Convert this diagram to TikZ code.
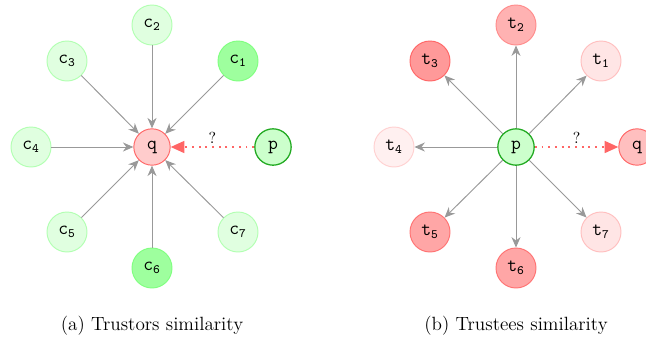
\documentclass[tikz,border=0pt]{standalone}
\usepackage{tikz}
\usetikzlibrary{arrows.meta}

\definecolor{edgegray}{HTML}{999999}
\definecolor{qred}{HTML}{FF6666}
\definecolor{pgreen}{HTML}{22AA22}

\begin{document}
\begin{tikzpicture}[x=0.022cm,y=-0.022cm,
  every node/.style={circle,inner sep=0pt,line width=0.6pt,font=\large},
  sat/.style={minimum size=0.88cm},
  ctr/.style={minimum size=0.8cm},
  cweak/.style={sat,fill=green!12,draw=green!30},
  cstrong/.style={sat,fill=green!38,draw=green!50},
  qnode/.style={ctr,fill=red!20,draw=qred},
  pnode/.style={ctr,fill=green!20,draw=pgreen,line width=0.8pt},
  tlight/.style={sat,fill=red!10,draw=red!25},
  tdark/.style={sat,fill=red!30,draw=red!45},
  tdeep/.style={sat,fill=red!40,draw=red!60},
  tstrong/.style={sat,fill=red!35,draw=red!55},
  link/.style={draw=edgegray,line width=0.6pt,-{Stealth[length=2.3mm,width=2mm]}},
  guess/.style={draw=qred,line width=1.2pt,dash pattern=on 1.2pt off 3pt,-{Triangle[length=3mm,width=2.6mm]}},
  caption/.style={rectangle,inner sep=0pt,font=\large}]
\useasboundingbox (0,0) rectangle (646,340);

\begin{scope}
\node[qnode] (qa) at (152,147) {$\mathtt{q}$};
\node[cstrong] (c1) at (238,61) {$\mathtt{c}_{\mathtt{1}}$};
\node[cweak] (c2) at (152,25) {$\mathtt{c}_{\mathtt{2}}$};
\node[cweak] (c3) at (67,61) {$\mathtt{c}_{\mathtt{3}}$};
\node[cweak] (c4) at (31,147) {$\mathtt{c}_{\mathtt{4}}$};
\node[cweak] (c5) at (67,232) {$\mathtt{c}_{\mathtt{5}}$};
\node[cstrong] (c6) at (152,268) {$\mathtt{c}_{\mathtt{6}}$};
\node[cweak] (c7) at (238,232) {$\mathtt{c}_{\mathtt{7}}$};
\node[pnode] (pa) at (273,147) {$\mathtt{p}$};
\draw[link] (c1) -- (qa);
\draw[link] (c2) -- (qa);
\draw[link] (c3) -- (qa);
\draw[link] (c4) -- (qa);
\draw[link] (c5) -- (qa);
\draw[link] (c6) -- (qa);
\draw[link] (c7) -- (qa);
\draw[guess] (pa) -- node[rectangle,above=2pt,font=\normalsize] {?} (qa);
\node[caption] (capa) at (152,326) {(a) Trustors similarity};
\end{scope}

\begin{scope}
\node[pnode] (pb) at (516,147) {$\mathtt{p}$};
\node[tlight] (t1) at (601,61) {$\mathtt{t}_{\mathtt{1}}$};
\node[tdark] (t2) at (516,25) {$\mathtt{t}_{\mathtt{2}}$};
\node[tdeep] (t3) at (430,61) {$\mathtt{t}_{\mathtt{3}}$};
\node[sat,fill=red!6,draw=red!18] (t4) at (394,147) {$\mathtt{t}_{\mathtt{4}}$};
\node[tstrong] (t5) at (430,232) {$\mathtt{t}_{\mathtt{5}}$};
\node[tstrong] (t6) at (516,268) {$\mathtt{t}_{\mathtt{6}}$};
\node[tlight] (t7) at (601,232) {$\mathtt{t}_{\mathtt{7}}$};
\node[qnode,fill=red!25] (qb) at (637,147) {$\mathtt{q}$};
\draw[link] (pb) -- (t1);
\draw[link] (pb) -- (t2);
\draw[link] (pb) -- (t3);
\draw[link] (pb) -- (t4);
\draw[link] (pb) -- (t5);
\draw[link] (pb) -- (t6);
\draw[link] (pb) -- (t7);
\draw[guess] (pb) -- node[rectangle,above=2pt,font=\normalsize] {?} (qb);
\node[caption] (capb) at (516,326) {(b) Trustees similarity};
\end{scope}
\end{tikzpicture}
\end{document}
